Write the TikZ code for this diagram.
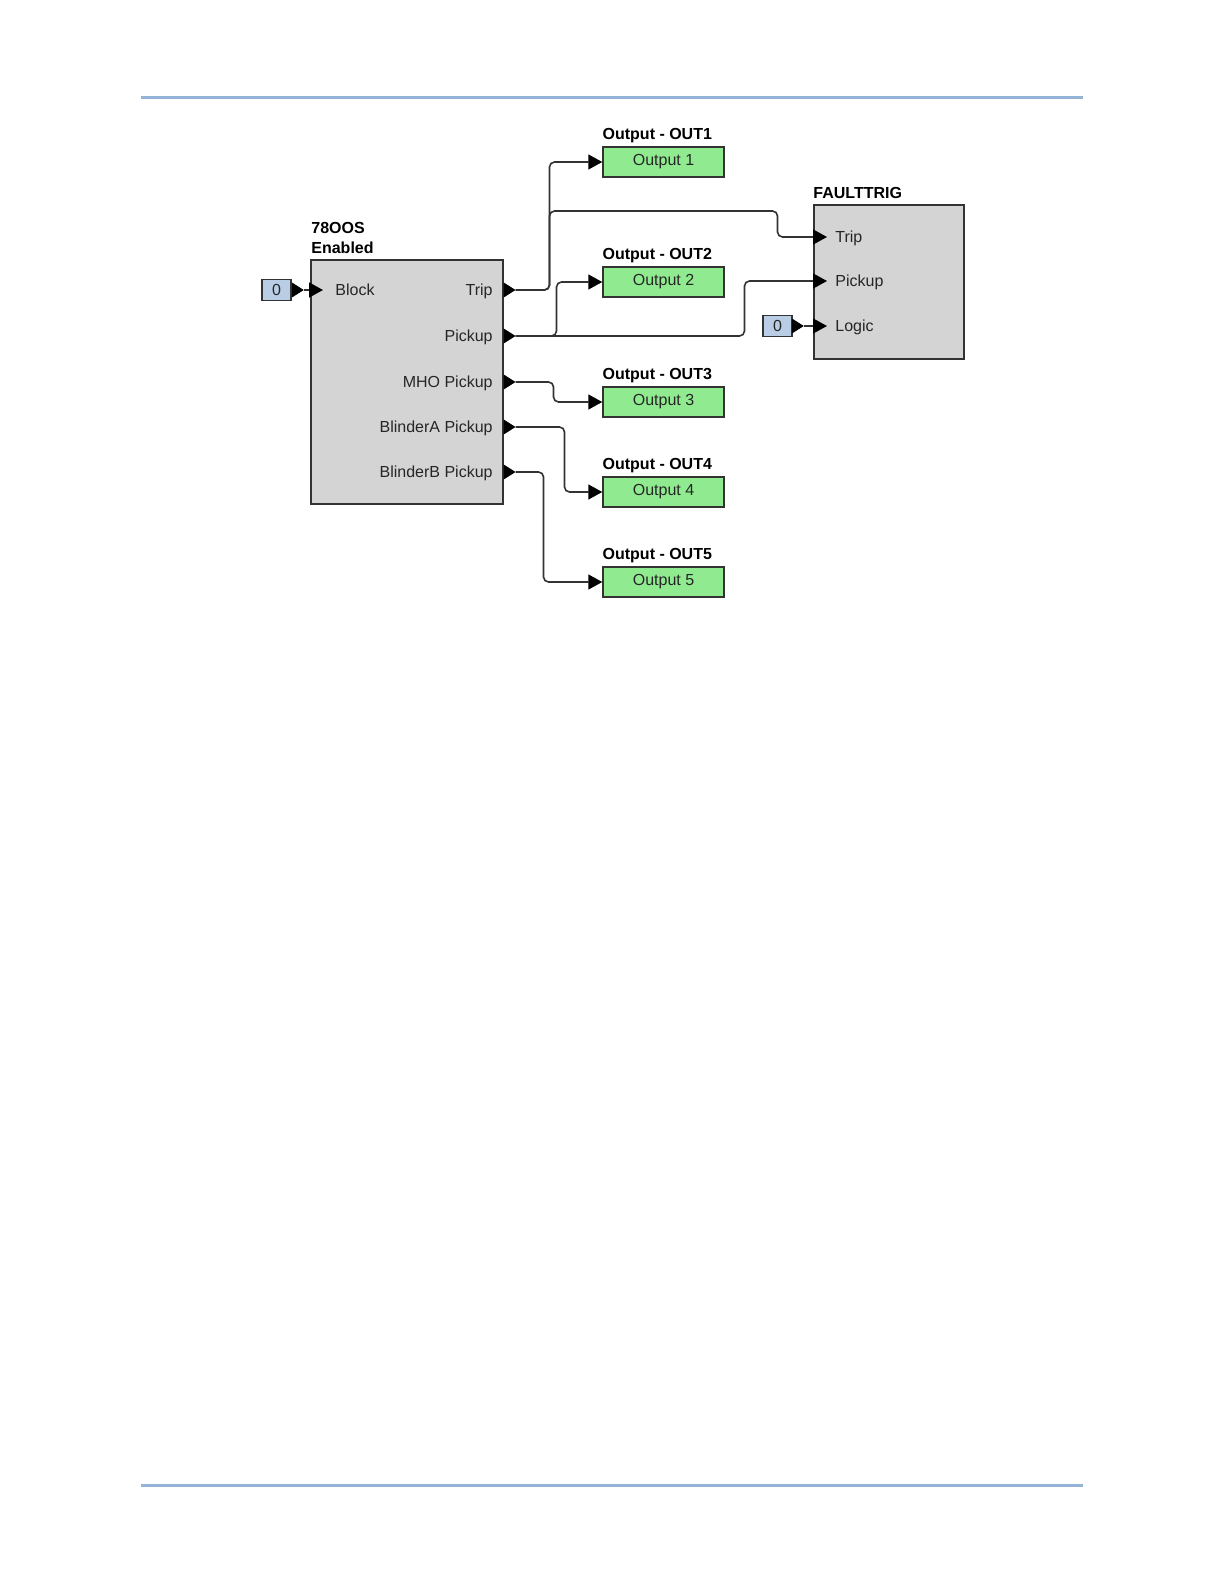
\documentclass[tikz,border=0pt]{standalone}
\usepackage{fontspec}
\setmainfont{Liberation Sans}
\usetikzlibrary{arrows.meta,positioning}

\definecolor{rulecol}{RGB}{149,179,215}
\definecolor{blkgray}{RGB}{212,212,212}
\definecolor{outgreen}{RGB}{144,234,144}
\definecolor{constblue}{RGB}{185,205,229}
\definecolor{wiregray}{RGB}{51,51,51}

\begin{document}
\begin{tikzpicture}[x=0.5pt,y=-0.5pt,
  font=\fontsize{8}{9.6}\selectfont,
  blk/.style={draw=wiregray, fill=blkgray, line width=0.75pt, anchor=north west, inner sep=0pt},
  obox/.style={draw=wiregray, fill=outgreen, line width=0.75pt, minimum width=60.5pt, minimum height=15pt, inner sep=0pt, text=black!85},
  cbox/.style={draw=wiregray, fill=constblue, line width=0.75pt, minimum width=14.5pt, minimum height=10.5pt, inner sep=0pt, text=black!85},
  ttl/.style={font=\fontsize{8}{9.6}\selectfont\bfseries, inner sep=0pt},
  lbl/.style={inner sep=0pt, text height=5.8pt, text depth=0pt, text=black!85},
  wire/.style={draw=wiregray, line width=0.8pt, rounded corners=2.5pt},
  intip/.style={-{Triangle[length=7pt,width=7.5pt,color=black]}},
  porttip/.style={-{Triangle[length=6pt,width=7.5pt]}, draw=black, line width=0.5pt}]

  \useasboundingbox (0,0) rectangle (1224,1584);

  % page rules
  \draw[rulecol, line width=1.5pt] (141,98) -- (1083,98);
  \draw[rulecol, line width=1.5pt] (141,1485) -- (1083,1485);

  % 78OOS block
  \node[blk, minimum width=96pt, minimum height=122pt] (oos) at (310,259) {};
  \node[ttl, above right=3pt and 0.5pt of oos.north west, anchor=base west] (oos-en) {Enabled};
  \node[ttl, above=10pt of oos-en.base west, anchor=base west] (oos-name) {78OOS};

  \node[lbl, anchor=west] (oos-blk) at (335,290) {Block};
  \node[lbl, anchor=east] (oos-trip) at (493,290) {Trip};
  \node[lbl, anchor=east] (oos-pick) at (493,336) {Pickup};
  \node[lbl, anchor=east] (oos-mho) at (493,382) {MHO Pickup};
  \node[lbl, anchor=east] (oos-blA) at (493,427) {BlinderA Pickup};
  \node[lbl, anchor=east] (oos-blB) at (493,472) {BlinderB Pickup};

  \foreach \n in {trip,pick,mho,blA,blB} {
    \path (oos.east |- oos-\n) ++(12,0) coordinate (\n-o);
    \draw[porttip] (oos.east |- oos-\n) -- (\n-o);
  }
  \path (oos.west |- oos-blk) ++(13,0) coordinate (oos-blk-i);

  % FAULTTRIG block
  \node[blk, minimum width=75pt, minimum height=77pt] (ft) at (813,204) {};
  \node[ttl, above right=3pt and 0pt of ft.north west, anchor=base west] (ft-name) {FAULTTRIG};

  \node[lbl, anchor=west] (ft-trip) at (835,237) {Trip};
  \node[lbl, anchor=west] (ft-pick) at (835,281) {Pickup};
  \node[lbl, anchor=west] (ft-logic) at (835,326) {Logic};

  \foreach \n in {trip,pick,logic}
    \path (ft.west |- ft-\n) ++(14,0) coordinate (ft-\n-i);

  % output contacts
  \node[obox] (out1) at (663.5,162) {Output 1};
  \node[obox] (out2) at (663.5,282) {Output 2};
  \node[obox] (out3) at (663.5,402) {Output 3};
  \node[obox] (out4) at (663.5,492) {Output 4};
  \node[obox] (out5) at (663.5,582) {Output 5};
  \node[ttl, above right=3.5pt and 0pt of out1.north west, anchor=base west] (out1-t) {Output - OUT1};
  \node[ttl, above right=3.5pt and 0pt of out2.north west, anchor=base west] (out2-t) {Output - OUT2};
  \node[ttl, above right=3.5pt and 0pt of out3.north west, anchor=base west] (out3-t) {Output - OUT3};
  \node[ttl, above right=3.5pt and 0pt of out4.north west, anchor=base west] (out4-t) {Output - OUT4};
  \node[ttl, above right=3.5pt and 0pt of out5.north west, anchor=base west] (out5-t) {Output - OUT5};

  % constants
  \node[cbox] (c0a) at (276.5,290) {0};
  \node[cbox] (c0b) at (777.5,326) {0};
  \path (c0a.east) ++(12,0) coordinate (c0a-o);
  \path (c0b.east) ++(11,0) coordinate (c0b-o);
  \draw[porttip] (c0a.east) -- (c0a-o);
  \draw[porttip] (c0b.east) -- (c0b-o);

  % wires
  \draw[wire, intip] (c0a-o) -- (oos-blk-i);
  \draw[wire, intip] (c0b-o) -- (ft-logic-i);
  \draw[wire, intip] (trip-o) -- ++(34,0) |- (out1.west);
  \draw[wire, intip] (trip-o) -- ++(34,0) -- ++(0,-79) -- ++(228,0) |- (ft-trip-i);
  \draw[wire, intip] (pick-o) -- ++(41,0) |- (out2.west);
  \draw[wire, intip] (pick-o) -- ++(229,0) |- (ft-pick-i);
  \draw[wire, intip] (mho-o) -- ++(38,0) |- (out3.west);
  \draw[wire, intip] (blA-o) -- ++(49,0) |- (out4.west);
  \draw[wire, intip] (blB-o) -- ++(28,0) |- (out5.west);
\end{tikzpicture}
\end{document}
